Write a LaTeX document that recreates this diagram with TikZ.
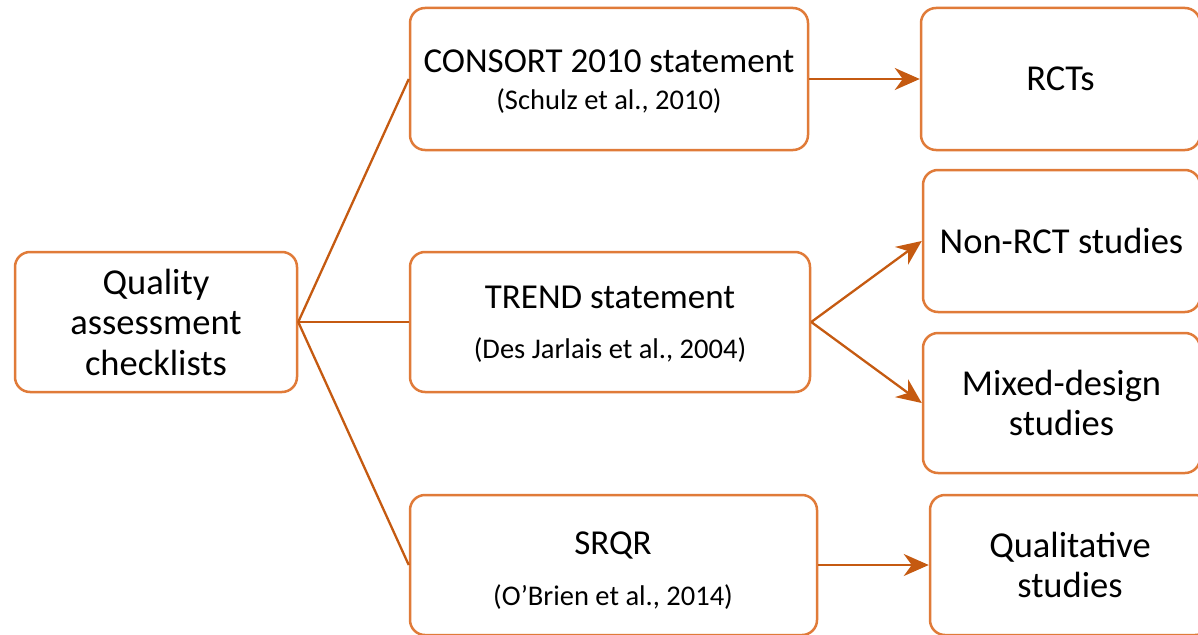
\documentclass[tikz,border=0pt]{standalone}
\usepackage{fontspec}
\setmainfont{Carlito}
\usetikzlibrary{arrows.meta}
\definecolor{boxc}{HTML}{E07B39}
\definecolor{linec}{HTML}{C55A11}
\tikzset{
 box/.style={draw=boxc, line width=2.5pt, rounded corners=15pt, fill=white, inner sep=0pt,
   font=\fontsize{36.5}{40.5}\selectfont, align=center},
 bigtxt/.style={font=\fontsize{35}{40}\selectfont, align=center, inner sep=0pt},
 smalltxt/.style={font=\fontsize{28.5}{32}\selectfont, inner sep=0pt},
 conn/.style={draw=linec, line width=2.3pt},
 arr/.style={conn, -{Stealth[length=25pt,width=22pt,inset=8pt]}}
}
\begin{document}
\begin{tikzpicture}[x=1pt,y=-1pt]
\useasboundingbox (0,0) rectangle (1198,634);
\clip (0,0) rectangle (1198,634);
% boxes
\node[box, minimum width=282pt, minimum height=140pt] (q) at (156,322) {Quality\\assessment\\checklists};
\node[box, minimum width=398pt, minimum height=142pt] (consort) at (609,79) {};
\node[box, minimum width=400pt, minimum height=140pt] (trend) at (610,322) {};
\node[box, minimum width=407pt, minimum height=140pt] (srqr) at (613.5,565) {};
\node[box, minimum width=279pt, minimum height=142pt] (rct) at (1060.5,79) {RCTs};
\node[box, minimum width=277pt, minimum height=142pt] (nonrct) at (1061.5,241) {Non-RCT studies};
\node[box, minimum width=277pt, minimum height=140pt] (mixed) at (1061.5,403) {Mixed-design\\studies};
\node[box, minimum width=280pt, minimum height=140pt] (qual) at (1070,565) {Qualitative\\studies};
% texts
\node[bigtxt] (t1) at (609,61) {CONSORT 2010 statement};
\node[smalltxt] (c1) at (609,101) {(Schulz et al., 2010)};
\node[bigtxt] (t2) at (610,297) {TREND statement};
\node[smalltxt] (c2) at (610,350) {(Des Jarlais et al., 2004)};
\node[bigtxt] (t3) at (613,545) {SRQR};
\node[smalltxt] (c3) at (613,597) {(O’Brien et al., 2014)};
% connectors
\draw[conn] (q.east) -- (consort.west);
\draw[conn] (q.east) -- (trend.west);
\draw[conn] (q.east) -- (srqr.west);
\draw[arr] (consort.east) -- (rct.west);
\draw[arr] (trend.east) -- (nonrct.west);
\draw[arr] (trend.east) -- (mixed.west);
\draw[arr] (srqr.east) -- (qual.west);
\end{tikzpicture}
\end{document}
